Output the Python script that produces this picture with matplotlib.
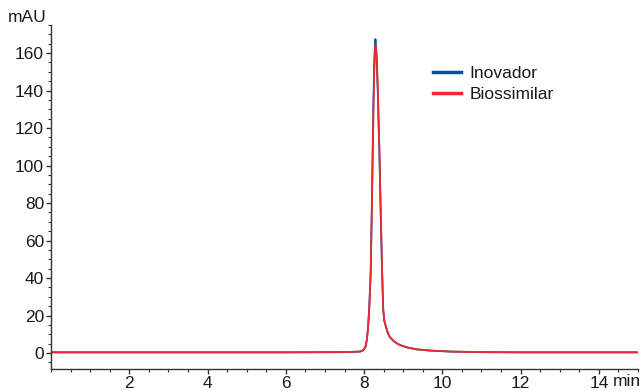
import matplotlib
matplotlib.use("Agg")
import matplotlib.pyplot as plt
from matplotlib.ticker import MultipleLocator
from matplotlib import font_manager

names = {f.name for f in font_manager.fontManager.ttflist}
fam = ['Liberation Sans Narrow', 'DejaVu Sans'] if 'Liberation Sans Narrow' in names else ['Liberation Sans', 'DejaVu Sans']
plt.rcParams['font.family'] = fam

# Chromatogram samples (time in min, absorbance in mAU)
time_inovador = [0, 3, 6, 7.5, 7.9, 7.98, 8.04, 8.07, 8.10, 8.13, 8.15, 8.17, 8.20, 8.22, 8.24,
                 8.26, 8.28, 8.29, 8.30, 8.32, 8.35, 8.37, 8.39, 8.42, 8.46, 8.49, 8.52, 8.56,
                 8.61, 8.66, 8.75, 8.85, 8.92, 9.1, 9.34, 9.7, 10.2, 11, 12, 13, 14, 15]
mau_inovador = [0.4, 0.4, 0.4, 0.5, 0.8, 1.5, 3.5, 7, 13, 23, 33, 44, 80, 108, 135,
                155, 165, 167.5, 166, 158, 140, 123, 108, 80, 44, 23, 17, 14,
                10.5, 8.5, 6.5, 5, 4.3, 3, 2, 1.3, 0.8, 0.5, 0.4, 0.4, 0.4, 0.4]

time_bio = [0, 3, 6, 7.5, 7.9, 7.98, 8.04, 8.07, 8.10, 8.13, 8.15, 8.17, 8.20, 8.22, 8.24,
            8.26, 8.28, 8.295, 8.31, 8.33, 8.355, 8.375, 8.395, 8.42, 8.46, 8.49, 8.52, 8.56,
            8.61, 8.66, 8.75, 8.85, 8.92, 9.1, 9.34, 9.7, 10.2, 11, 12, 13, 14, 15]
mau_bio = [0.4, 0.4, 0.4, 0.5, 0.8, 1.5, 3.5, 7, 13, 23, 33, 44, 78, 105, 130,
           150, 160, 164, 162, 155, 138, 121, 106, 80, 44, 23, 17, 14,
           10.5, 8.5, 6.5, 5, 4.3, 3, 2, 1.3, 0.8, 0.5, 0.4, 0.4, 0.4, 0.4]

series_names = ['Inovador', 'Biossimilar']
colors = ['#0a4f9c', '#f0282d']

W, H = 644, 391
fig = plt.figure(figsize=(W / 100, H / 100), dpi=100)
ax = fig.add_axes([51 / W, (H - 369) / H, (638 - 51) / W, (369 - 25) / H])

ax.plot(time_inovador, mau_inovador, color=colors[0], lw=1.3, label=series_names[0])
ax.plot(time_bio, mau_bio, color=colors[1], lw=1.3, label=series_names[1])

ax.set_xlim(0, 15)
ax.set_ylim(-8.5, 175)
ax.xaxis.set_minor_locator(MultipleLocator(0.5))
ax.yaxis.set_major_locator(MultipleLocator(20))
ax.yaxis.set_minor_locator(MultipleLocator(5))
ax.set_xticks([2, 4, 6, 8, 10, 12, 14])

for s in ['top', 'right']:
    ax.spines[s].set_visible(False)
for s in ['left', 'bottom']:
    ax.spines[s].set_color('#333333')
    ax.spines[s].set_linewidth(1.0)

ax.tick_params(which='major', length=3.5, width=1, color='#333333', labelsize=12.5,
               labelcolor='#1a1a1a', pad=1.5)
ax.tick_params(which='minor', length=2.5, width=0.8, color='#333333')

fig.text(8 / W, 1 - 18 / H, 'mAU', fontsize=12.5, va='center', ha='left', color='#1a1a1a')
fig.text(641 / W, 1 - 381 / H, 'min', fontsize=12.5, va='center', ha='right', color='#1a1a1a')

leg = ax.legend(loc='upper left', bbox_to_anchor=(428 / W, 1 - 61 / H),
                bbox_transform=fig.transFigure, frameon=False, fontsize=12.5,
                handlelength=1.6, handletextpad=0.5, labelspacing=0.3,
                borderaxespad=0, borderpad=0.3)
for line in leg.get_lines():
    line.set_linewidth(2.5)
for t in leg.get_texts():
    t.set_color('#1a1a1a')

fig.savefig('out.png', dpi=100)
